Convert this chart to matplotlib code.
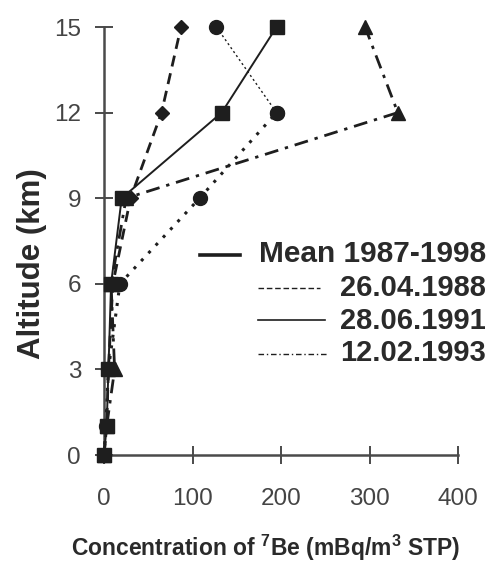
import matplotlib
matplotlib.use("Agg")
import matplotlib.pyplot as plt
from matplotlib.lines import Line2D

plt.rcParams['font.family'] = ['Liberation Sans', 'DejaVu Sans']
plt.rcParams['mathtext.fontset'] = 'custom'
plt.rcParams['mathtext.rm'] = 'Liberation Sans:bold'
plt.rcParams['mathtext.bf'] = 'Liberation Sans:bold'

# Altitude levels (km)
altitude = [0, 1, 3, 6, 9, 12, 15]

# 7Be concentration profiles (mBq/m3 STP)
mean_1987_1998 = [0, 3, 5, 8, 20, 133, 195]
profile_1988 = [0, 3, 5, 10, 30, 65, 87]
profile_1991 = [0, 2, 5, 18, 108, 195, 127]
profile_1993 = [0, 3, 12, 8, 25, 332, 295]

x_ticks = [0, 100, 200, 300, 400]
y_ticks = [0, 3, 6, 9, 12, 15]

legend_labels = ["Mean 1987-1998", "26.04.1988", "28.06.1991", "12.02.1993"]

W, H = 488, 577
fig = plt.figure(figsize=(W / 100, H / 100), dpi=100)
ax = fig.add_axes([104 / W, 1 - 455 / H, (458 - 104) / W, (455 - 27) / H])

ink = '#1e1e1e'
axis_col = '#4a4a4a'

# Mean profile: squares, solid
ax.plot(mean_1987_1998, altitude, color=ink, lw=1.4, marker='s', ms=10.5,
        clip_on=False, zorder=4)
# 26.04.1988: diamonds, dashed
ax.plot(profile_1988, altitude, color=ink, lw=2.0, ls=(0, (4, 2.5)), marker='D',
        ms=7.5, clip_on=False, zorder=3)
# 28.06.1991: circles, dotted (fine above 12 km)
ax.plot(profile_1991[:6], altitude[:6], color=ink, lw=2.2, ls=(0, (1, 2.5)),
        marker='o', ms=10, clip_on=False, zorder=3)
ax.plot(profile_1991[5:], altitude[5:], color=ink, lw=1.0, ls=(0, (1.5, 2)),
        marker='o', ms=10, clip_on=False, zorder=3)
# 12.02.1993: triangles, dash-dot
ax.plot(profile_1993, altitude, color=ink, lw=2.0, ls=(0, (5, 2.5, 1.2, 2.5)),
        marker='^', ms=10, clip_on=False, zorder=3)

ax.set_xlim(0, 400)
ax.set_ylim(0, 15)
ax.set_xticks(x_ticks)
ax.set_yticks(y_ticks)
for side in ('top', 'right'):
    ax.spines[side].set_visible(False)
for side in ('left', 'bottom'):
    ax.spines[side].set_color(axis_col)
    ax.spines[side].set_linewidth(1.8)
ax.tick_params(axis='both', direction='inout', length=13, width=1.4,
               color=axis_col, labelsize=17.5, labelcolor='#444444')
ax.tick_params(axis='x', pad=17)
ax.tick_params(axis='y', pad=10)

fig.text(32 / W, 1 - 264 / H, "Altitude (km)", rotation=90, ha='center',
         va='center', fontsize=22.5, fontweight='bold', color='#2a2a2a')
fig.text(265 / W, 1 - 548 / H, r"Concentration of $^{7}$Be (mBq/m$^{3}$ STP)",
         ha='center', va='center', fontsize=16.5, fontweight='bold', color='#2a2a2a')

# Legend drawn as line samples with right-aligned labels
legend_styles = [
    dict(x0=200, x1=240, y=255, lw=2.6, ls='-'),
    dict(x0=258, x1=320, y=288, lw=1.0, ls=(0, (4, 2))),
    dict(x0=258, x1=325, y=320, lw=1.2, ls='-'),
    dict(x0=258, x1=327, y=354, lw=1.0, ls=(0, (4, 2, 1, 2))),
]
label_y = [254, 288, 321, 353]
label_size = [21.5, 21, 21, 21]
for st, lab, ly, fs in zip(legend_styles, legend_labels, label_y, label_size):
    fig.add_artist(Line2D([st['x0'] / W, st['x1'] / W], [1 - st['y'] / H] * 2,
                          transform=fig.transFigure, color=ink, lw=st['lw'],
                          ls=st['ls']))
    fig.text(486 / W, 1 - ly / H, lab, ha='right', va='center', fontsize=fs,
             fontweight='bold', color='#2a2a2a')

fig.savefig("out.png", dpi=100)
